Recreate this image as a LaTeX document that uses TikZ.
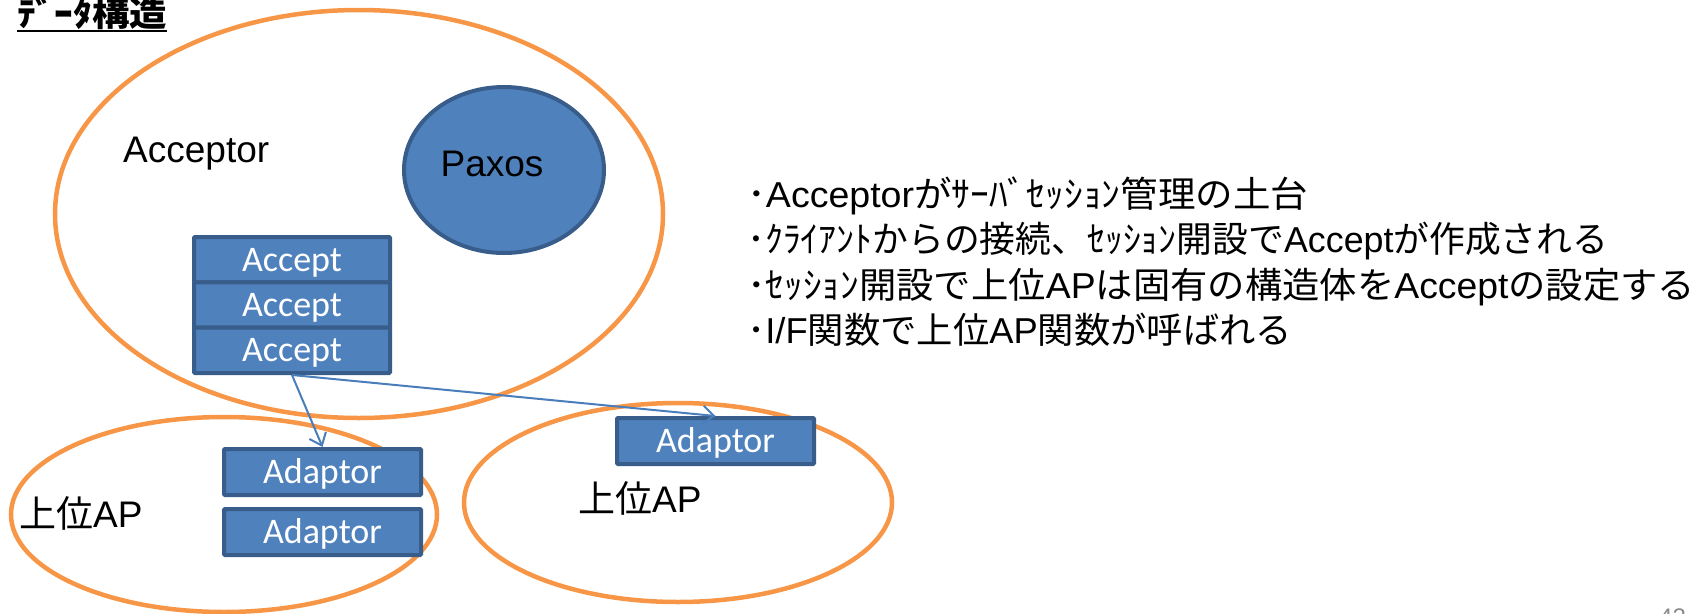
\documentclass[tikz,border=0pt]{standalone}
\usepackage{fontspec}
\setmainfont{Liberation Sans}
\newfontfamily\jpfont{Noto Sans CJK JP}
\newfontfamily\calfont{Carlito}
\usetikzlibrary{shapes.geometric,arrows.meta}

\definecolor{ringorange}{HTML}{F79646}
\definecolor{cellfill}{HTML}{4F81BD}
\definecolor{celledge}{HTML}{385D8A}
\definecolor{linkblue}{HTML}{4A7EBB}
\definecolor{pagegray}{HTML}{8C8C8C}

\tikzset{
  orangering/.style={ellipse, draw=ringorange, line width=4.5pt, inner sep=0pt},
  bluedisk/.style={ellipse, draw=celledge, fill=cellfill, line width=4pt, inner sep=0pt},
  bluecell/.style={rectangle, draw=celledge, fill=cellfill, line width=4pt,
    rounded corners=1pt, inner sep=0pt, minimum width=196pt, text=white,
    font=\calfont\fontsize{36}{36}\selectfont, text height=23pt, text depth=0pt},
  blacktext/.style={inner sep=0pt, text=black, font=\fontsize{37}{37}\selectfont},
  notetext/.style={inner sep=0pt, anchor=base west, text=black, font=\fontsize{36}{36}\selectfont},
  bluelink/.style={draw=linkblue, line width=2pt, -{Straight Barb[length=11pt,width=18pt]}},
}

\begin{document}
\begin{tikzpicture}[x=1pt,y=-1pt]
\useasboundingbox (0,0) rectangle (1702,613);

% heading
\node[inner sep=0pt, anchor=base west, font=\jpfont\bfseries\fontsize{34}{34}\selectfont]
  (title) at (17,26) {\resizebox{150pt}{\height}{ﾃﾞｰﾀ構造}};
\draw[line width=2pt] ([yshift=-5pt]title.base west) -- ([yshift=-5pt]title.base east);

% containers
\node[orangering, minimum width=608pt, minimum height=408pt] (acceptor) at (359,214) {};
\node[orangering, minimum width=426pt, minimum height=195pt] (apleft) at (224,514.5) {};
\node[orangering, minimum width=428pt, minimum height=199pt] (apright) at (678,502.5) {};

% Paxos
\node[bluedisk, minimum width=200pt, minimum height=166pt] (paxos) at (504,170) {};
\node[blacktext, anchor=base] (paxoslabel) at (492,176) {Paxos};

\node[blacktext, anchor=base west] (acceptorlabel) at (123,162) {Acceptor};

% Accept stack
\node[bluecell, minimum height=45.33pt] (accept1) at (292,259.67) {Accept};
\node[bluecell, minimum height=45.33pt] (accept2) at (292,305) {Accept};
\node[bluecell, minimum height=45.33pt] (accept3) at (292,350.33) {Accept};

% adaptors
\node[bluecell, minimum width=197pt, minimum height=46pt] (adaptorL1) at (322.5,472) {Adaptor};
\node[bluecell, minimum width=197pt, minimum height=46pt] (adaptorL2) at (322.5,532) {Adaptor};
\node[bluecell, minimum width=197pt, minimum height=46pt] (adaptorR) at (715.5,441) {Adaptor};

\node[blacktext, anchor=base west] (apleftlabel) at (19,527) {{\jpfont 上位}AP};
\node[blacktext, anchor=base west] (aprightlabel) at (578,512) {{\jpfont 上位}AP};

% links
\draw[bluelink] (accept3.south) -- (adaptorL1.north);
\draw[bluelink] (accept3.south) -- (adaptorR.north);

% notes
\node[notetext] (note1) at (747,207) {\resizebox{561pt}{\height}{{\jpfont ･}Acceptor{\jpfont がｻｰﾊﾞｾｯｼｮﾝ管理の土台}}};
\node[notetext] (note2) at (747,252) {\resizebox{861pt}{\height}{{\jpfont ･ｸﾗｲｱﾝﾄからの接続、ｾｯｼｮﾝ開設で}Accept{\jpfont が作成される}}};
\node[notetext] (note3) at (747,298) {\resizebox{948pt}{\height}{{\jpfont ･ｾｯｼｮﾝ開設で上位}AP{\jpfont は固有の構造体を}Accept{\jpfont の設定する}}};
\node[notetext] (note4) at (747,343) {\resizebox{545pt}{\height}{{\jpfont ･}I/F{\jpfont 関数で上位}AP{\jpfont 関数が呼ばれる}}};

% page number
\node[inner sep=0pt, anchor=base west, text=pagegray, font=\fontsize{24}{24}\selectfont]
  (pageno) at (1659,625) {42};
\end{tikzpicture}
\end{document}
